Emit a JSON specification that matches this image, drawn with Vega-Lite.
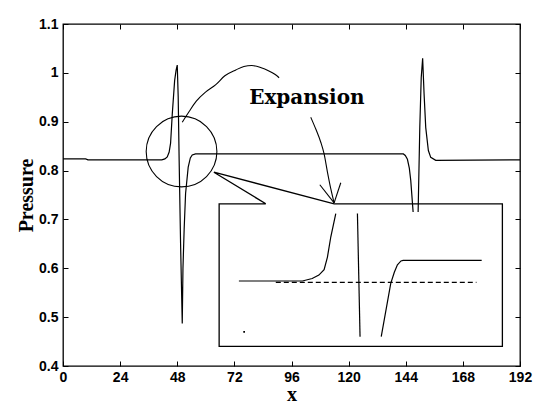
{
  "$schema": "https://vega.github.io/schema/vega-lite/v6.json",
  "width": 457,
  "height": 342,
  "autosize": {"type": "none"},
  "padding": {"left": 63, "top": 24, "right": 13, "bottom": 39},
  "background": "white",
  "config": {
    "view": {"stroke": "black", "strokeWidth": 1.3},
    "axis": {
      "domain": false,
      "grid": false,
      "tickColor": "black",
      "tickSize": -5,
      "tickWidth": 1,
      "labelFont": "Liberation Sans",
      "labelFontWeight": "bold",
      "labelFontSize": 14,
      "labelColor": "black",
      "titleFont": "Liberation Serif",
      "titleFontWeight": "bold",
      "titleFontSize": 20,
      "titleColor": "black"
    }
  },
  "datasets": {
    "main": [
      {"x": 0, "y": 0.824}, {"x": 9.5, "y": 0.824}, {"x": 10.5, "y": 0.822}, {"x": 41.5, "y": 0.822},
      {"x": 42.8, "y": 0.824}, {"x": 43.8, "y": 0.828}, {"x": 44.6, "y": 0.838}, {"x": 45.2, "y": 0.856},
      {"x": 45.9, "y": 0.915}, {"x": 46.9, "y": 0.984}, {"x": 47.5, "y": 1.005}, {"x": 48.0, "y": 1.016},
      {"x": 48.4, "y": 0.95}, {"x": 48.8, "y": 0.82}, {"x": 49.4, "y": 0.65}, {"x": 50.1, "y": 0.487},
      {"x": 50.4, "y": 0.6}, {"x": 50.9, "y": 0.68}, {"x": 51.5, "y": 0.753}, {"x": 52.6, "y": 0.807},
      {"x": 53.5, "y": 0.826}, {"x": 54.3, "y": 0.832}, {"x": 55.7, "y": 0.834},
      {"x": 143.0, "y": 0.834}, {"x": 143.8, "y": 0.831}, {"x": 144.7, "y": 0.823}, {"x": 145.5, "y": 0.805},
      {"x": 146.1, "y": 0.78}, {"x": 147.1, "y": 0.715}, {"x": 147.8, "y": 0.6}, {"x": 148.3, "y": 0.49},
      {"x": 148.8, "y": 0.6}, {"x": 149.2, "y": 0.715}, {"x": 149.9, "y": 0.888}, {"x": 150.5, "y": 0.99},
      {"x": 151.1, "y": 1.03}, {"x": 151.7, "y": 0.957}, {"x": 152.4, "y": 0.888}, {"x": 153.5, "y": 0.841},
      {"x": 154.5, "y": 0.827}, {"x": 156.6, "y": 0.821}, {"x": 192, "y": 0.822}
    ],
    "mask": [{"x": 65.6, "x2": 184.6, "y": 0.44, "y2": 0.715}],
    "box": [
      {"o": 0, "x": 85.2, "y": 0.732}, {"o": 1, "x": 65.6, "y": 0.732}, {"o": 2, "x": 65.6, "y": 0.44},
      {"o": 3, "x": 184.6, "y": 0.44}, {"o": 4, "x": 184.6, "y": 0.732}, {"o": 5, "x": 113.9, "y": 0.732},
      {"o": 6, "x": 63.4, "y": 0.7966}, {"o": 7, "x": 85.2, "y": 0.732}
    ],
    "inset": [
      {"s": "a", "x": 73.9, "y": 0.574}, {"s": "a", "x": 100.6, "y": 0.574}, {"s": "a", "x": 104.7, "y": 0.579},
      {"s": "a", "x": 107.5, "y": 0.586}, {"s": "a", "x": 109.7, "y": 0.597}, {"s": "a", "x": 111.1, "y": 0.623},
      {"s": "a", "x": 112.5, "y": 0.664}, {"s": "a", "x": 114.6, "y": 0.712},
      {"s": "b", "x": 123.7, "y": 0.712}, {"s": "b", "x": 124.8, "y": 0.46},
      {"s": "c", "x": 133.7, "y": 0.46}, {"s": "c", "x": 137.7, "y": 0.569}, {"s": "c", "x": 139.2, "y": 0.592},
      {"s": "c", "x": 140.5, "y": 0.607}, {"s": "c", "x": 142.0, "y": 0.615}, {"s": "c", "x": 142.9, "y": 0.616},
      {"s": "c", "x": 175.9, "y": 0.616}
    ],
    "dashed": [{"x": 89.4, "y": 0.571}, {"x": 173.7, "y": 0.571}],
    "dot": [{"x": 76.1, "y": 0.47}],
    "circle": [{"x": 49.8, "y": 0.839}],
    "curves": [
      {"s": "a1", "x": 50.1, "y": 0.899}, {"s": "a1", "x": 53, "y": 0.921}, {"s": "a1", "x": 56, "y": 0.942},
      {"s": "a1", "x": 60, "y": 0.961}, {"s": "a1", "x": 64.2, "y": 0.976}, {"s": "a1", "x": 68, "y": 0.994},
      {"s": "a1", "x": 72.6, "y": 1.006}, {"s": "a1", "x": 76, "y": 1.013}, {"s": "a1", "x": 79.3, "y": 1.015},
      {"s": "a1", "x": 83, "y": 1.011}, {"s": "a1", "x": 86.5, "y": 1.004}, {"s": "a1", "x": 89, "y": 0.997},
      {"s": "a1", "x": 90.8, "y": 0.99},
      {"s": "a2", "x": 104.1, "y": 0.909}, {"s": "a2", "x": 106.2, "y": 0.885}, {"s": "a2", "x": 108.3, "y": 0.858},
      {"s": "a2", "x": 109.7, "y": 0.834}, {"s": "a2", "x": 111.1, "y": 0.797}, {"s": "a2", "x": 112.5, "y": 0.763},
      {"s": "a2", "x": 113.9, "y": 0.734},
      {"s": "h1", "x": 107.9, "y": 0.771}, {"s": "h1", "x": 113.9, "y": 0.734},
      {"s": "h2", "x": 113.9, "y": 0.734}, {"s": "h2", "x": 116.7, "y": 0.775}
    ],
    "label": [{"x": 78.2, "y": 0.937, "t": "Expansion"}]
  },
  "encoding": {
    "x": {"field": "x", "type": "quantitative", "scale": {"domain": [0, 192], "nice": false, "zero": false}, "axis": null},
    "y": {"field": "y", "type": "quantitative", "scale": {"domain": [0.4, 1.1], "nice": false, "zero": false}, "axis": null}
  },
  "resolve": {"axis": {"x": "independent", "y": "independent"}},
  "layer": [
    {
      "data": {"name": "main"},
      "mark": {"type": "line", "color": "black", "strokeWidth": 1.2},
      "encoding": {
        "x": {"field": "x", "type": "quantitative", "scale": {"domain": [0, 192], "nice": false, "zero": false},
          "axis": {"orient": "bottom", "values": [0, 24, 48, 72, 96, 120, 144, 168, 192], "title": "x", "labelPadding": 9, "titlePadding": 0, "labelFlush": false}},
        "y": {"field": "y", "type": "quantitative", "scale": {"domain": [0.4, 1.1], "nice": false, "zero": false},
          "axis": {"orient": "left", "values": [0.4, 0.5, 0.6, 0.7, 0.8, 0.9, 1, 1.1], "format": "~g", "title": "Pressure", "labelPadding": 10, "titlePadding": 2, "labelFlush": false}}
      }
    },
    {
      "data": {"name": "mask"},
      "mark": {"type": "rect", "fill": "white", "strokeWidth": 0},
      "encoding": {"x2": {"field": "x2"}, "y2": {"field": "y2"}}
    },
    {
      "data": {"name": "box"},
      "mark": {"type": "line", "color": "black", "strokeWidth": 1.3},
      "encoding": {"order": {"field": "o", "type": "quantitative"}}
    },
    {
      "data": {"name": "inset"},
      "mark": {"type": "line", "color": "black", "strokeWidth": 1.2},
      "encoding": {"detail": {"field": "s"}}
    },
    {
      "data": {"name": "dashed"},
      "mark": {"type": "line", "color": "black", "strokeWidth": 1.2, "strokeDash": [5, 3]},
      "encoding": {}
    },
    {
      "data": {"name": "dot"},
      "mark": {"type": "point", "shape": "square", "filled": true, "color": "black", "size": 3, "opacity": 1}
    },
    {
      "data": {"name": "circle"},
      "mark": {"type": "point", "shape": "circle", "filled": false, "stroke": "black", "strokeWidth": 1.1, "size": 5000, "opacity": 1},
      "encoding": {
        "x": {"field": "x", "type": "quantitative", "scale": {"domain": [0, 192], "nice": false, "zero": false},
          "axis": {"orient": "top", "values": [0, 24, 48, 72, 96, 120, 144, 168, 192], "labels": false, "title": null}},
        "y": {"field": "y", "type": "quantitative", "scale": {"domain": [0.4, 1.1], "nice": false, "zero": false},
          "axis": {"orient": "right", "values": [0.4, 0.5, 0.6, 0.7, 0.8, 0.9, 1, 1.1], "labels": false, "title": null}}
      }
    },
    {
      "data": {"name": "curves"},
      "mark": {"type": "line", "color": "black", "strokeWidth": 1.1, "interpolate": "monotone"},
      "encoding": {"detail": {"field": "s"}}
    },
    {
      "data": {"name": "label"},
      "mark": {"type": "text", "font": "DejaVu Serif", "fontWeight": "bold", "fontSize": 20, "align": "left", "baseline": "alphabetic", "color": "black"},
      "encoding": {"text": {"field": "t"}}
    }
  ]
}
